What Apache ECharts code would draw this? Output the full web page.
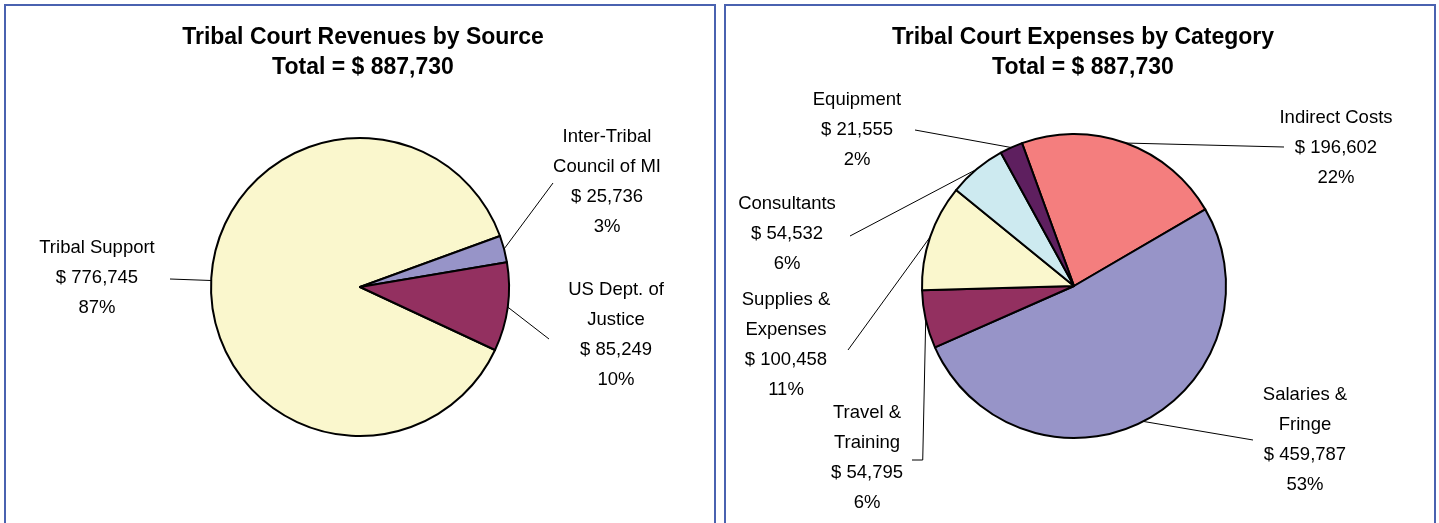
<!DOCTYPE html>
<html>
<head>
<meta charset="utf-8">
<script src="https://cdn.jsdelivr.net/npm/echarts@6/dist/echarts.min.js"></script>
<style>
  html, body { margin: 0; padding: 0; background: #fff; }
  #main { width: 1439px; height: 523px; }
</style>
</head>
<body>
<div id="main"></div>
<script>
// revenues (left pie)
var revenueNames = ['Tribal Support', 'Inter-Tribal\nCouncil of MI', 'US Dept. of\nJustice'];
var revenueValues = [776745, 25736, 85249];
var revenuePct = ['87%', '3%', '10%'];

// expenses (right pie)
var expenseNames = ['Indirect Costs', 'Salaries &\nFringe', 'Travel &\nTraining', 'Supplies &\nExpenses', 'Consultants', 'Equipment'];
var expenseValues = [196602, 459787, 54795, 100458, 54532, 21555];
var expensePct = ['22%', '53%', '6%', '11%', '6%', '2%'];

var revenueTitle = 'Tribal Court Revenues by Source\nTotal = $ 887,730';
var expenseTitle = 'Tribal Court Expenses by Category\nTotal = $ 887,730';

var revenueColors = ['#FAF7CD', '#9794C8', '#933060'];
var expenseColors = ['#F47E7E', '#9794C8', '#933060', '#FAF7CD', '#CDEAF0', '#5E1F5F'];

// where each label sits (centre) and where its leader line stops
var labelSpots = [
  [
    { x: 97, y: 278, ex: 170, ey: 279 },
    { x: 607, y: 182, ex: 553, ey: 183 },
    { x: 616, y: 335, ex: 549, ey: 339 }
  ],
  [
    { x: 1336, y: 148, ex: 1284, ey: 147 },
    { x: 1305, y: 440, ex: 1253, ey: 440 },
    { x: 867, y: 458, ex: 912, ey: 460, bend: true },
    { x: 786, y: 345, ex: 848, ey: 350 },
    { x: 787, y: 234, ex: 850, ey: 236 },
    { x: 857, y: 130, ex: 915, ey: 130 }
  ]
];

var font = "'Liberation Sans', Arial, sans-serif";

function money(v) {
  return '$ ' + v.toLocaleString('en-US');
}

function buildData(names, values, colors) {
  var out = [];
  for (var i = 0; i < names.length; i++) {
    out.push({
      name: names[i],
      value: values[i],
      itemStyle: { color: colors[i] }
    });
  }
  return out;
}

var revenueData = buildData(revenueNames, revenueValues, revenueColors);
var expenseData = buildData(expenseNames, expenseValues, expenseColors);

function labelText(pctList) {
  return function (p) {
    return p.name + '\n' + money(p.value) + '\n' + pctList[p.dataIndex];
  };
}

function placeLabel(params) {
  var spot = labelSpots[params.seriesIndex][params.dataIndex];
  var res = { x: spot.x, y: spot.y, align: 'center', verticalAlign: 'middle' };
  var pts = params.labelLinePoints;
  if (pts && pts.length) {
    var a = pts[0];
    var mid = spot.bend ? [a[0] - 3, spot.ey] : [spot.ex, spot.ey];
    res.labelLinePoints = [a, mid, [spot.ex, spot.ey]];
  }
  return res;
}

var pieCommon = {
  type: 'pie',
  avoidLabelOverlap: false,
  animation: false,
  silent: true,
  itemStyle: { borderColor: '#000', borderWidth: 2 },
  label: {
    show: true,
    position: 'outside',
    color: '#000',
    fontFamily: font,
    fontSize: 18.5,
    lineHeight: 30,
    align: 'center'
  },
  labelLine: {
    show: true,
    length: 10,
    length2: 10,
    smooth: false,
    lineStyle: { color: '#000', width: 1 }
  },
  labelLayout: placeLabel
};

var chart = echarts.init(document.getElementById('main'), null, { renderer: 'canvas' });

var option = {
  backgroundColor: '#fff',
  animation: false,
  graphic: [
    { type: 'rect', shape: { x: 5, y: 5, width: 710, height: 540 }, style: { fill: 'none', stroke: '#4A62B0', lineWidth: 2 } },
    { type: 'rect', shape: { x: 725, y: 5, width: 710, height: 540 }, style: { fill: 'none', stroke: '#4A62B0', lineWidth: 2 } },
    { type: 'text', x: 363, y: 53, style: { text: revenueTitle, font: 'bold 23px ' + font, lineHeight: 30, fill: '#000', align: 'center', verticalAlign: 'middle' } },
    { type: 'text', x: 1083, y: 53, style: { text: expenseTitle, font: 'bold 23px ' + font, lineHeight: 30, fill: '#000', align: 'center', verticalAlign: 'middle' } }
  ],
  series: [
    Object.assign({}, pieCommon, {
      name: 'Revenues',
      center: [360, 287],
      radius: 149,
      startAngle: 335,
      data: revenueData,
      label: Object.assign({}, pieCommon.label, { formatter: labelText(revenuePct) })
    }),
    Object.assign({}, pieCommon, {
      name: 'Expenses',
      center: [1074, 286],
      radius: 152,
      startAngle: 110,
      data: expenseData,
      label: Object.assign({}, pieCommon.label, { formatter: labelText(expensePct) })
    })
  ]
};

chart.setOption(option);
</script>
</body>
</html>
